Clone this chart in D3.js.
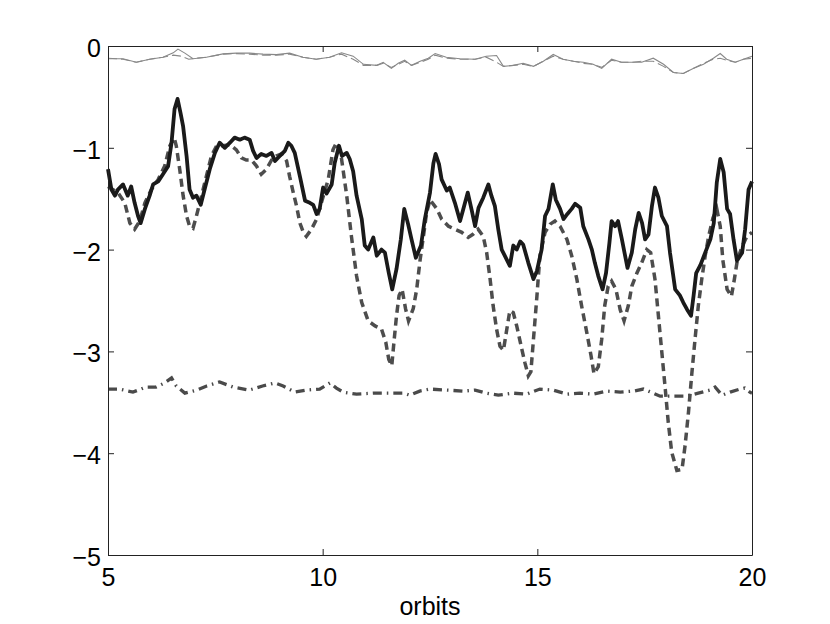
<!DOCTYPE html>
<html>
<head>
<meta charset="utf-8">
<script src="https://cdn.jsdelivr.net/npm/d3@7"></script>
<style>
body { margin: 0; background: #fff; }
svg text { font-family: "Liberation Sans", Arial, sans-serif; }
</style>
</head>
<body>
<div id="chart"></div>
<script>
var width = 830, height = 624;
var margin = { left: 108, right: 78, top: 46, bottom: 69 };

var xTicks = [5, 10, 15, 20];
var yTicks = [0, -1, -2, -3, -4, -5];

// thin solid line near zero
var thinSolid = [[5,-0.125],[5.35,-0.125],[5.66,-0.16],[5.97,-0.13],[6.28,-0.11],[6.52,-0.067],[6.63,-0.03],[6.79,-0.07],
	[6.98,-0.125],[7.29,-0.11],[7.68,-0.077],[7.99,-0.07],[8.3,-0.07],[8.61,-0.08],[8.92,-0.085],[9.23,-0.07],[9.54,-0.11],
	[9.85,-0.13],[10.16,-0.11],[10.44,-0.067],[10.71,-0.1],[10.95,-0.18],[11.26,-0.19],[11.41,-0.16],[11.6,-0.22],
	[11.76,-0.17],[11.91,-0.14],[12.07,-0.19],[12.27,-0.15],[12.46,-0.12],[12.62,-0.074],[12.88,-0.11],[13.2,-0.125],
	[13.55,-0.13],[13.81,-0.1],[14.05,-0.093],[14.21,-0.2],[14.44,-0.19],[14.67,-0.17],[14.91,-0.2],[15.14,-0.15],
	[15.37,-0.083],[15.6,-0.13],[15.84,-0.15],[16.07,-0.16],[16.3,-0.18],[16.5,-0.22],[16.73,-0.13],[16.96,-0.16],
	[17.19,-0.16],[17.43,-0.16],[17.7,-0.12],[17.94,-0.18],[18.17,-0.26],[18.4,-0.27],[18.63,-0.22],[18.87,-0.18],
	[19.1,-0.12],[19.26,-0.074],[19.41,-0.13],[19.61,-0.16],[19.8,-0.13],[20,-0.1]];

// thin dashed line near zero
var thinDashed = [[5,-0.12],[5.35,-0.13],[5.66,-0.16],[5.97,-0.13],[6.28,-0.11],[6.52,-0.09],[6.7,-0.1],[6.88,-0.13],
	[7.05,-0.12],[7.29,-0.11],[7.68,-0.08],[7.99,-0.075],[8.3,-0.08],[8.61,-0.09],[8.92,-0.09],[9.23,-0.08],[9.54,-0.11],
	[9.85,-0.13],[10.16,-0.11],[10.44,-0.08],[10.71,-0.13],[10.95,-0.19],[11.26,-0.19],[11.41,-0.17],[11.6,-0.21],
	[11.76,-0.18],[11.91,-0.15],[12.07,-0.19],[12.27,-0.16],[12.46,-0.13],[12.62,-0.09],[12.88,-0.12],[13.2,-0.13],
	[13.55,-0.13],[13.81,-0.11],[14.05,-0.16],[14.21,-0.2],[14.44,-0.19],[14.67,-0.18],[14.91,-0.2],[15.14,-0.15],
	[15.37,-0.1],[15.6,-0.13],[15.84,-0.15],[16.07,-0.17],[16.3,-0.18],[16.5,-0.21],[16.73,-0.14],[16.96,-0.16],
	[17.19,-0.16],[17.43,-0.15],[17.7,-0.15],[17.94,-0.2],[18.17,-0.26],[18.4,-0.27],[18.63,-0.22],[18.87,-0.17],
	[19.1,-0.13],[19.26,-0.12],[19.41,-0.14],[19.61,-0.16],[19.8,-0.13],[20,-0.12]];

// thick solid black line
var thickSolid = [[5,-1.21],[5.08,-1.41],[5.16,-1.47],[5.23,-1.41],[5.35,-1.36],[5.46,-1.47],[5.54,-1.38],[5.62,-1.54],
	[5.7,-1.67],[5.76,-1.74],[5.86,-1.6],[5.97,-1.47],[6.05,-1.36],[6.17,-1.33],[6.28,-1.26],[6.4,-1.18],[6.48,-0.95],
	[6.55,-0.62],[6.62,-0.52],[6.69,-0.66],[6.75,-0.79],[6.83,-1.08],[6.9,-1.41],[6.98,-1.49],[7.06,-1.47],[7.16,-1.56],
	[7.25,-1.41],[7.37,-1.21],[7.49,-1.05],[7.6,-0.95],[7.72,-1.0],[7.84,-0.95],[7.95,-0.9],[8.07,-0.92],[8.18,-0.9],
	[8.3,-0.92],[8.38,-1.03],[8.46,-1.1],[8.57,-1.06],[8.69,-1.08],[8.81,-1.05],[8.89,-1.13],[9.0,-1.08],[9.12,-1.03],
	[9.2,-0.95],[9.27,-0.98],[9.35,-1.05],[9.47,-1.28],[9.59,-1.52],[9.7,-1.54],[9.78,-1.56],[9.86,-1.65],[9.93,-1.6],
	[10.01,-1.39],[10.09,-1.45],[10.21,-1.36],[10.28,-1.15],[10.38,-0.98],[10.45,-1.08],[10.56,-1.05],[10.63,-1.11],
	[10.71,-1.23],[10.79,-1.47],[10.91,-1.7],[10.98,-1.96],[11.06,-2.0],[11.18,-1.88],[11.26,-2.06],[11.37,-2.0],
	[11.45,-2.03],[11.54,-2.23],[11.62,-2.39],[11.72,-2.19],[11.82,-1.9],[11.9,-1.6],[11.99,-1.75],[12.07,-1.9],
	[12.17,-2.08],[12.29,-1.96],[12.38,-1.7],[12.5,-1.44],[12.58,-1.15],[12.63,-1.06],[12.71,-1.16],[12.77,-1.31],
	[12.89,-1.42],[12.96,-1.39],[13.08,-1.54],[13.2,-1.72],[13.27,-1.61],[13.38,-1.44],[13.47,-1.61],[13.55,-1.77],
	[13.63,-1.59],[13.74,-1.49],[13.86,-1.36],[13.93,-1.47],[14.01,-1.57],[14.09,-1.8],[14.17,-2.0],[14.29,-2.1],
	[14.36,-2.16],[14.44,-1.96],[14.52,-2.0],[14.6,-1.92],[14.67,-1.95],[14.79,-2.13],[14.91,-2.29],[14.99,-2.21],
	[15.1,-2.0],[15.18,-1.67],[15.26,-1.6],[15.36,-1.36],[15.43,-1.51],[15.53,-1.6],[15.61,-1.7],[15.7,-1.65],
	[15.8,-1.6],[15.88,-1.55],[16.0,-1.59],[16.07,-1.77],[16.19,-1.9],[16.27,-2.0],[16.34,-2.13],[16.42,-2.26],
	[16.52,-2.39],[16.6,-2.23],[16.68,-1.93],[16.73,-1.72],[16.81,-1.77],[16.88,-1.72],[16.97,-1.9],[17.1,-2.18],
	[17.2,-2.03],[17.28,-1.8],[17.36,-1.64],[17.44,-1.74],[17.51,-1.9],[17.59,-1.85],[17.67,-1.57],[17.74,-1.39],
	[17.82,-1.49],[17.9,-1.67],[18.02,-1.77],[18.09,-2.03],[18.21,-2.39],[18.32,-2.45],[18.4,-2.52],[18.49,-2.59],
	[18.58,-2.65],[18.64,-2.45],[18.7,-2.23],[18.8,-2.15],[18.91,-2.03],[19.03,-1.9],[19.11,-1.74],[19.18,-1.34],
	[19.26,-1.11],[19.34,-1.24],[19.42,-1.6],[19.49,-1.65],[19.57,-1.9],[19.65,-2.11],[19.77,-2.03],[19.84,-1.8],
	[19.92,-1.41],[20,-1.33]];

// thick dashed gray line
var thickDashed = [[5,-1.38],[5.23,-1.44],[5.39,-1.54],[5.51,-1.74],[5.62,-1.8],[5.74,-1.72],[5.86,-1.54],[6.01,-1.41],
	[6.17,-1.31],[6.32,-1.18],[6.44,-0.98],[6.54,-0.9],[6.59,-0.98],[6.67,-1.21],[6.75,-1.47],[6.83,-1.67],[6.9,-1.77],
	[6.98,-1.79],[7.06,-1.67],[7.18,-1.47],[7.29,-1.28],[7.41,-1.08],[7.53,-0.98],[7.68,-0.98],[7.84,-0.97],
	[7.99,-1.02],[8.11,-1.1],[8.22,-1.12],[8.34,-1.12],[8.46,-1.18],[8.57,-1.26],[8.69,-1.21],[8.81,-1.12],
	[8.92,-1.08],[9.04,-1.06],[9.16,-1.13],[9.23,-1.28],[9.31,-1.43],[9.39,-1.57],[9.47,-1.74],[9.55,-1.83],
	[9.62,-1.87],[9.74,-1.8],[9.86,-1.7],[9.97,-1.54],[10.13,-1.31],[10.24,-1.02],[10.32,-0.95],[10.43,-1.08],
	[10.56,-1.47],[10.67,-1.87],[10.79,-2.26],[10.91,-2.52],[11.06,-2.7],[11.22,-2.75],[11.37,-2.78],[11.47,-2.91],
	[11.54,-3.08],[11.61,-3.14],[11.66,-2.91],[11.72,-2.65],[11.78,-2.45],[11.85,-2.39],[11.93,-2.58],[12.0,-2.7],
	[12.11,-2.58],[12.19,-2.39],[12.27,-2.1],[12.36,-1.83],[12.42,-1.64],[12.5,-1.51],[12.66,-1.6],[12.77,-1.7],
	[12.93,-1.77],[13.08,-1.8],[13.24,-1.83],[13.39,-1.88],[13.5,-1.85],[13.62,-1.8],[13.74,-1.87],[13.82,-2.03],
	[13.9,-2.29],[13.97,-2.55],[14.05,-2.78],[14.13,-2.95],[14.21,-2.99],[14.29,-2.78],[14.36,-2.6],[14.44,-2.62],
	[14.52,-2.75],[14.64,-2.98],[14.71,-3.11],[14.79,-3.24],[14.85,-3.2],[14.91,-2.88],[14.99,-2.46],[15.06,-2.06],
	[15.18,-1.83],[15.3,-1.75],[15.41,-1.72],[15.53,-1.77],[15.69,-1.9],[15.8,-2.06],[15.92,-2.29],[16.03,-2.55],
	[16.15,-2.81],[16.25,-3.04],[16.32,-3.22],[16.42,-3.15],[16.5,-2.88],[16.57,-2.55],[16.65,-2.36],[16.73,-2.31],
	[16.83,-2.39],[16.93,-2.59],[17.02,-2.7],[17.12,-2.55],[17.2,-2.36],[17.32,-2.23],[17.43,-2.13],[17.55,-2.0],
	[17.64,-2.03],[17.74,-2.29],[17.82,-2.65],[17.9,-3.01],[17.98,-3.37],[18.05,-3.7],[18.13,-3.99],[18.25,-4.17],
	[18.37,-4.16],[18.44,-3.93],[18.52,-3.6],[18.6,-3.21],[18.68,-2.85],[18.75,-2.55],[18.83,-2.29],[18.91,-2.06],
	[18.99,-1.87],[19.09,-1.69],[19.18,-1.6],[19.26,-1.77],[19.32,-2.1],[19.42,-2.39],[19.52,-2.46],[19.59,-2.29],
	[19.66,-2.1],[19.77,-1.97],[19.88,-1.87],[20,-1.83]];

// thick dash-dot line near -3.4
var thickDashDot = [[5,-3.37],[5.27,-3.37],[5.58,-3.4],[5.89,-3.35],[6.12,-3.35],[6.32,-3.31],[6.48,-3.26],[6.59,-3.34],
	[6.79,-3.41],[7.07,-3.38],[7.3,-3.34],[7.6,-3.3],[7.91,-3.35],[8.29,-3.38],[8.6,-3.34],[8.89,-3.31],[9.08,-3.34],
	[9.35,-3.4],[9.62,-3.38],[9.93,-3.37],[10.17,-3.31],[10.32,-3.36],[10.48,-3.4],[10.79,-3.42],[11.18,-3.41],
	[11.57,-3.41],[11.88,-3.41],[12.03,-3.43],[12.26,-3.39],[12.5,-3.37],[12.89,-3.38],[13.27,-3.39],[13.55,-3.38],
	[13.81,-3.41],[14.09,-3.43],[14.43,-3.41],[14.75,-3.42],[15.06,-3.37],[15.37,-3.38],[15.69,-3.42],[15.99,-3.41],
	[16.3,-3.42],[16.61,-3.39],[16.93,-3.4],[17.24,-3.39],[17.47,-3.37],[17.7,-3.41],[17.86,-3.44],[18.17,-3.44],
	[18.48,-3.44],[18.75,-3.41],[19.02,-3.38],[19.14,-3.35],[19.3,-3.43],[19.49,-3.4],[19.72,-3.37],[19.83,-3.36],
	[19.95,-3.4],[20,-3.41]];

var svg = d3.select("#chart").append("svg")
	.attr("width", width)
	.attr("height", height);

var xScale = d3.scaleLinear().domain([5, 20]).range([margin.left, width - margin.right]);
var yScale = d3.scaleLinear().domain([-5, 0]).range([height - margin.bottom, margin.top]);

var line = d3.line()
	.x(function(d) { return xScale(d[0]); })
	.y(function(d) { return yScale(d[1]); });

var plot = svg.append("g");

plot.append("path").datum(thinSolid)
	.attr("d", line).attr("fill", "none")
	.attr("stroke", "#888").attr("stroke-width", 1.1);
plot.append("path").datum(thinDashed)
	.attr("d", line).attr("fill", "none")
	.attr("stroke", "#888").attr("stroke-width", 1.1)
	.attr("stroke-dasharray", "9,4");
plot.append("path").datum(thickDashDot)
	.attr("d", line).attr("fill", "none")
	.attr("stroke", "#4a4a4a").attr("stroke-width", 3.3)
	.attr("stroke-dasharray", "9,5,1.5,5");
plot.append("path").datum(thickDashed)
	.attr("d", line).attr("fill", "none")
	.attr("stroke", "#4d4d4d").attr("stroke-width", 3.5)
	.attr("stroke-dasharray", "8,5");
plot.append("path").datum(thickSolid)
	.attr("d", line).attr("fill", "none")
	.attr("stroke", "#1a1a1a").attr("stroke-width", 3.8)
	.attr("stroke-linejoin", "round");

// axes box, ticks inward on all four sides
var tickLen = 6;
var x0 = xScale(5), x1 = xScale(20), y0 = yScale(-5), y1 = yScale(0);

var bottomAxis = svg.append("g")
	.attr("transform", "translate(0," + y0 + ")")
	.call(d3.axisBottom(xScale).tickValues(xTicks).tickSizeInner(-tickLen).tickSizeOuter(0).tickPadding(13));
var topAxis = svg.append("g")
	.attr("transform", "translate(0," + y1 + ")")
	.call(d3.axisTop(xScale).tickValues(xTicks).tickSizeInner(-tickLen).tickSizeOuter(0).tickFormat(""));
var leftAxis = svg.append("g")
	.attr("transform", "translate(" + x0 + ",0)")
	.call(d3.axisLeft(yScale).tickValues(yTicks).tickSizeInner(-tickLen).tickSizeOuter(0).tickPadding(7)
		.tickFormat(function(d) { return d < 0 ? "\u2212" + Math.abs(d) : d; }));
var rightAxis = svg.append("g")
	.attr("transform", "translate(" + x1 + ",0)")
	.call(d3.axisRight(yScale).tickValues(yTicks).tickSizeInner(-tickLen).tickSizeOuter(0).tickFormat(""));

svg.selectAll(".domain").attr("stroke", "#222").attr("stroke-width", 1);
svg.selectAll(".tick line").attr("stroke", "#222");
svg.selectAll(".tick text")
	.attr("fill", "#000")
	.style("font-size", "25px")
	.style("font-family", "'Liberation Sans', Arial, sans-serif");
leftAxis.selectAll(".tick text").attr("dy", "0.42em");

svg.append("text")
	.attr("x", (x0 + x1) / 2)
	.attr("y", 615)
	.attr("text-anchor", "middle")
	.style("font-size", "25px")
	.text("orbits");
</script>
</body>
</html>
